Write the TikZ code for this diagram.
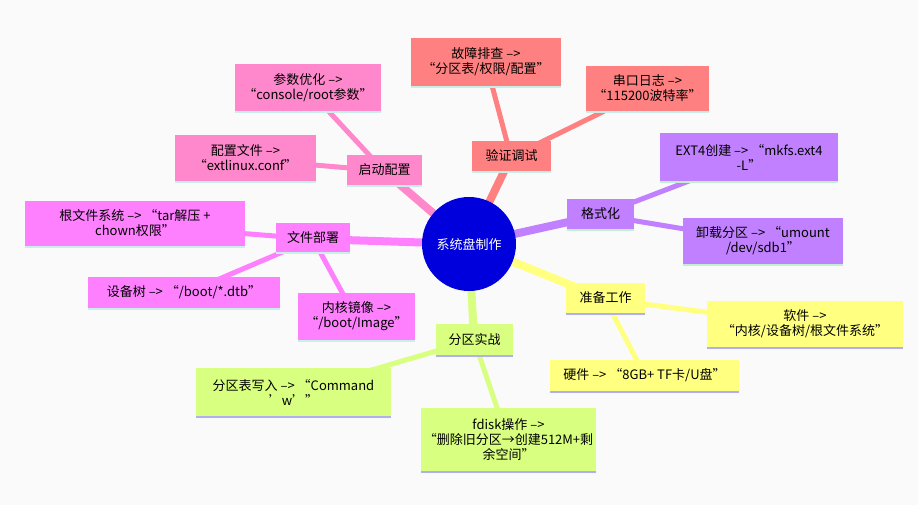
\documentclass[tikz,border=0pt]{standalone}
\usepackage{fontspec}
\setmainfont{Noto Sans CJK SC}
\definecolor{bg}{HTML}{FAFAFA}
\definecolor{cpink}{HTML}{FF88CC}
\definecolor{cmag}{HTML}{FF80FF}
\definecolor{csal}{HTML}{FF8080}
\definecolor{cpur}{HTML}{C080FF}
\definecolor{cyel}{HTML}{FFFF80}
\definecolor{clime}{HTML}{D9FF80}
\definecolor{croot}{HTML}{0000DD}
\definecolor{ucyan}{HTML}{C8F0E8}
\definecolor{ublue}{HTML}{B0B0F0}
\definecolor{ugreen}{HTML}{C0F0D0}
\tikzset{
  bx/.style={fill=#1, inner sep=0pt, align=center, font=\fontsize{13}{15}\selectfont},
  mainedge/.style={line width=8pt},
  leafedge/.style={line width=5pt},
}
\newcommand{\mybox}[7]{% name, color, underline, x1,y1,x2,y2 ... text via node
}
\begin{document}
\begin{tikzpicture}[x=1pt,y=-1pt]
\fill[bg] (0,0) rectangle (918,505);
\useasboundingbox (0,0) rectangle (918,505);
% coordinates
\coordinate (r) at (469,244);
\coordinate (qd) at (384,171);
\coordinate (cs) at (308,89);
\coordinate (pz) at (245,159);
\coordinate (wj) at (313,239);
\coordinate (gw) at (135,225);
\coordinate (sb) at (184,294);
\coordinate (nh) at (356,318);
\coordinate (yz) at (511,157);
\coordinate (gz) at (486,63);
\coordinate (ck) at (647,90);
\coordinate (gs) at (600,215);
\coordinate (ex) at (749,158);
\coordinate (xz) at (763,242);
\coordinate (zb) at (605,299);
\coordinate (rj) at (805,325);
\coordinate (yj) at (645,376);
\coordinate (fq) at (474,340);
\coordinate (fb) at (293,393);
\coordinate (fd) at (508,440);
% edges
\draw[cpink,leafedge] (qd)--(cs); \draw[cpink,leafedge] (qd)--(pz);
\draw[cmag,leafedge] (wj)--(gw); \draw[cmag,leafedge] (wj)--(sb); \draw[cmag,leafedge] (wj)--(nh);
\draw[csal,leafedge] (yz)--(gz); \draw[csal,leafedge] (yz)--(ck);
\draw[cpur,leafedge] (gs)--(ex); \draw[cpur,leafedge] (gs)--(xz);
\draw[cyel,leafedge] (zb)--(rj); \draw[cyel,leafedge] (zb)--(yj);
\draw[clime,leafedge] (fq)--(fb); \draw[clime,leafedge] (fq)--(fd);
\draw[cpink,mainedge] (r)--(qd);
\draw[cmag,mainedge] (r)--(wj);
\draw[csal,mainedge] (r)--(yz);
\draw[cpur,mainedge] (r)--(gs);
\draw[cyel,mainedge] (r)--(zb);
\draw[clime,mainedge] (r)--(fq);
% boxes: fill + underline
\def\B#1#2#3#4#5#6#7#8{\fill[#2] (#4,#5) rectangle (#6,#7); \fill[#3] (#4,#7-2) rectangle (#6,#7); \node[font=\fontsize{13}{15}\selectfont,align=center] (#1) at ({(#4+#6)/2},{(#5+#7)/2-1}) {#8};}
\B{nqd}{cpink}{ucyan}{347}{155}{422}{187}{启动配置}
\B{ncs}{cpink}{ucyan}{235}{64}{381}{113}{参数优化 -->\\“console/root参数”}
\B{npz}{cpink}{ucyan}{175}{135}{316}{183}{配置文件 -->\\“extlinux.conf”}
\B{nwj}{cmag}{ucyan}{276}{223}{350}{254}{文件部署}
\B{ngw}{cmag}{ucyan}{25}{201}{245}{248}{根文件系统 --> “tar解压 +\\chown权限”}
\B{nsb}{cmag}{ucyan}{88}{277}{280}{310}{设备树 --> “/boot/*.dtb”}
\B{nnh}{cmag}{ucyan}{298}{293}{415}{342}{内核镜像 -->\\“/boot/Image”}
\B{nyz}{csal}{ucyan}{472}{141}{551}{173}{验证调试}
\B{ngz}{csal}{ucyan}{411}{38}{561}{88}{故障排查 -->\\“分区表/权限/配置”}
\B{nck}{csal}{ucyan}{586}{66}{709}{113}{串口日志 -->\\“115200波特率”}
\B{ngs}{cpur}{ugreen}{567}{199}{634}{231}{格式化}
\B{nex}{cpur}{ugreen}{660}{133}{838}{183}{EXT4创建 --> “mkfs.ext4\\-L”}
\B{nxz}{cpur}{ugreen}{683}{218}{843}{266}{卸载分区 --> “umount\\/dev/sdb1”}
\B{nzb}{cyel}{ublue}{566}{283}{645}{315}{准备工作}
\B{nrj}{cyel}{ublue}{707}{301}{903}{349}{软件 -->\\“内核/设备树/根文件系统”}
\B{nyj}{cyel}{ublue}{550}{360}{739}{393}{硬件 --> “8GB+ TF卡/U盘”}
\B{nfq}{clime}{ublue}{436}{324}{513}{357}{分区实战}
\B{nfb}{clime}{ublue}{196}{368}{391}{418}{分区表写入 --> “Command\\'w'”}
\B{nfd}{clime}{ublue}{421}{408}{596}{473}{fdisk操作 -->\\“删除旧分区→创建512M+剩\\余空间”}
\fill[croot] (r) circle (47);
\node[white,font=\fontsize{13}{15}\selectfont] (nr) at (r) {系统盘制作};
\end{tikzpicture}
\end{document}
